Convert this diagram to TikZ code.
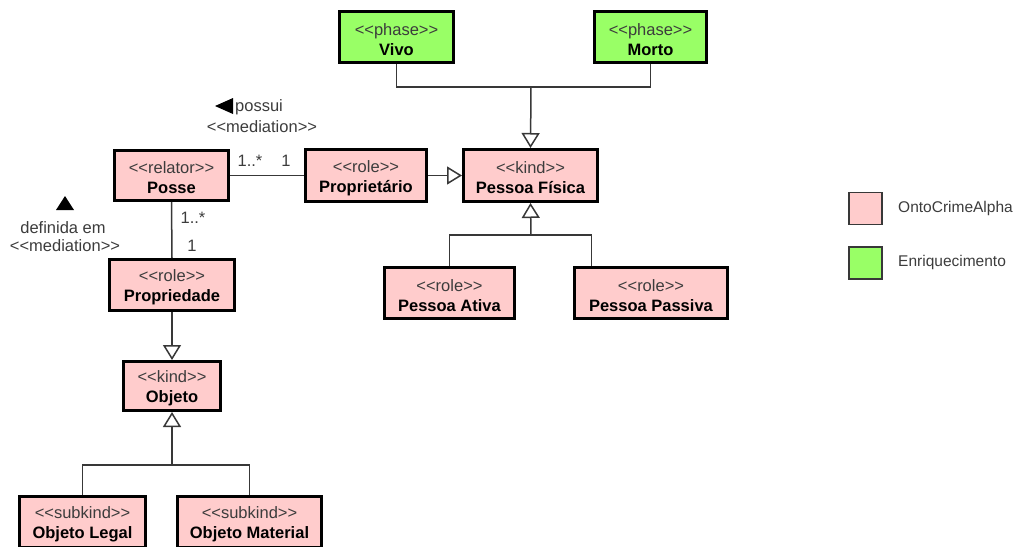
\documentclass[tikz,border=0pt]{standalone}
\usepackage{fontspec}
\setmainfont{Liberation Sans}
\usetikzlibrary{arrows.meta}
\definecolor{pinkfill}{HTML}{FFCCCC}
\definecolor{greenfill}{HTML}{99FF66}
\definecolor{stc}{HTML}{3C3C3C}
\definecolor{lnc}{HTML}{383838}
\newcommand\stereo[1]{{\color{stc}<\kern0pt<#1>\kern0pt>}}
\newcommand\umltxt[2]{\rule{0pt}{17pt}\stereo{#1}\\\textbf{#2}}
\tikzset{
  cls/.style={draw=black, line width=3pt, fill=pinkfill, inner sep=0pt, align=center,
    font=\fontsize{16.5}{20}\selectfont},
  phs/.style={cls, fill=greenfill},
  ln/.style={draw=lnc, line width=1.5pt},
  gen/.style={ln, -{Triangle[open, length=15pt, width=18pt, fill=white, line width=1.5pt]}},
  lbl/.style={inner sep=0pt, font=\fontsize{16.5}{18}\selectfont, text=stc},
  leglbl/.style={lbl, anchor=west, font=\fontsize{15.5}{18}\selectfont},
  legbox/.style={draw=lnc, line width=1.5pt, minimum width=33pt, minimum height=32pt, inner sep=0pt},
}
\begin{document}
\begin{tikzpicture}[x=1pt,y=-1pt]
\useasboundingbox (0,0) rectangle (1017,546);
\clip (0,0) rectangle (1017,546);
% classes
\node[phs, minimum width=114pt, minimum height=51pt] (vivo) at (396.5,37) {\umltxt{phase}{Vivo}};
\node[phs, minimum width=112pt, minimum height=51pt] (morto) at (650.5,37) {\umltxt{phase}{Morto}};
\node[cls, minimum width=134pt, minimum height=52pt] (pf) at (530.5,175.5) {\umltxt{kind}{Pessoa Física}};
\node[cls, minimum width=121pt, minimum height=52pt] (prop) at (366,175.5) {\umltxt{role}{Proprietário}};
\node[cls, minimum width=114pt, minimum height=50pt] (posse) at (171.5,175.5) {\umltxt{relator}{Posse}};
\node[cls, minimum width=125pt, minimum height=51pt] (propri) at (172,285) {\umltxt{role}{Propriedade}};
\node[cls, minimum width=97pt, minimum height=49pt] (objeto) at (172,386) {\umltxt{kind}{Objeto}};
\node[cls, minimum width=130pt, minimum height=51pt] (ativa) at (449.5,293) {\umltxt{role}{Pessoa Ativa}};
\node[cls, minimum width=153pt, minimum height=51pt] (passiva) at (651,293) {\umltxt{role}{Pessoa Passiva}};
\node[cls, minimum width=126pt, minimum height=51pt] (legal) at (82.5,522) {\umltxt{subkind}{Objeto Legal}};
\node[cls, minimum width=144pt, minimum height=51pt] (material) at (249.5,522) {\umltxt{subkind}{Objeto Material}};
% junctions
\coordinate (j1) at (531,87);
\coordinate (j2) at (172,465);
\coordinate (j3) at (531,235);
% generalizations
\draw[ln] (vivo.south) |- (j1);
\draw[ln] (morto.south) |- (j1);
\draw[gen] (j1) -- (pf.north);
\draw[gen] (prop.east) -- (pf.west);
\draw[gen] (propri.south) -- (objeto.north);
\draw[ln] (legal.north) |- (j2);
\draw[ln] (material.north) |- (j2);
\draw[gen] (j2) -- (objeto.south);
\draw[ln] (ativa.north) |- (j3);
\draw[ln] ([xshift=18.5pt]passiva.north west) |- (j3);
\draw[gen] (j3) -- (pf.south);
% mediations
\draw[ln] (posse.east) -- (prop.west);
\draw[ln] (posse.south) -- (propri.north);
% multiplicities
\node[lbl] (m1) at (250,161) {1..*};
\node[lbl] (m2) at (286,161) {1};
\node[lbl] (m3) at (193,218) {1..*};
\node[lbl] (m4) at (192,246) {1};
% association names
\fill (215,106) -- (233,98) -- (233,114) -- cycle;
\node[lbl, anchor=west] (possui) at (235,107) {possui};
\node[lbl] (med1) at (262,127) {\stereo{mediation}};
\fill (56,210) -- (74,210) -- (65,196) -- cycle;
\node[lbl] (defin) at (63,228) {definida em};
\node[lbl] (med2) at (65,246) {\stereo{mediation}};
% legend
\node[legbox, fill=pinkfill] (lg1) at (865.5,208.5) {};
\node[leglbl] (lt1) at (898,208) {OntoCrimeAlpha};
\node[legbox, fill=greenfill] (lg2) at (865.5,263) {};
\node[leglbl] (lt2) at (898,262) {Enriquecimento};
\end{tikzpicture}
\end{document}
